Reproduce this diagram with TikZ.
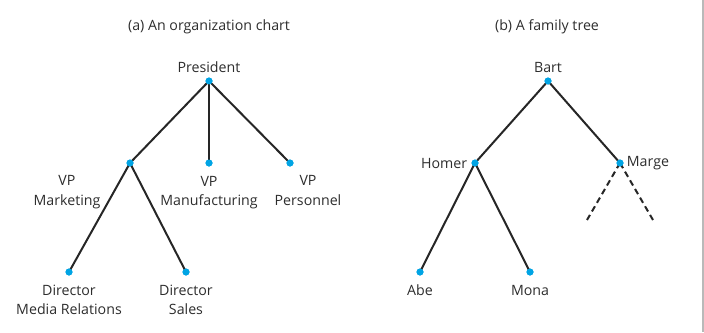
\documentclass[tikz,border=0pt]{standalone}
\usepackage{fontspec}
\setmainfont{Open Sans}
\usepackage{xcolor}
\usetikzlibrary{positioning}
\definecolor{dotblue}{RGB}{0,164,228}
\definecolor{txtgray}{RGB}{45,45,45}
\tikzset{
  dot/.style   ={circle,fill=dotblue,inner sep=0pt,minimum size=7pt},
  edge/.style  ={line width=2pt,black!85},
  hint/.style  ={edge,dashed,dash pattern=on 6pt off 4pt},
  lab/.style   ={font=\fontsize{14.2}{19.5}\selectfont,text=txtgray,align=center,inner sep=1pt},
  ttl/.style   ={lab},
}

\begin{document}
\begin{tikzpicture}[x=1pt,y=-1pt]
  \useasboundingbox (0,0) rectangle (704,332);
  \fill[gray!55] (701.5,0) rectangle (704,332);

  % (a) organization chart
  \node[ttl] (ta) at (209,27) {(a) An organization chart};
  \node[dot] (pres) at (209,81) {};
  \node[dot] (vpm)  at (130,163) {};
  \node[dot] (vpf)  at (209,163) {};
  \node[dot] (vpp)  at (290,163) {};
  \node[dot] (dmr)  at (69,272) {};
  \node[dot] (ds)   at (186,272) {};
  \node[lab,above=3pt of pres] (lpres) {President};
  \node[lab,anchor=north] (lvpm) at (67,174.5) {VP\\Marketing};
  \node[lab,below=8pt of vpf] (lvpf) {VP\\Manufacturing};
  \node[lab,anchor=north] (lvpp) at (308,174.5) {VP\\Personnel};
  \node[lab,below=8pt of dmr] (ldmr) {Director\\Media Relations};
  \node[lab,below=8pt of ds] (lds) {Director\\Sales};
  \draw[edge] (pres.center) -- (vpm.center);
  \draw[edge] (pres.center) -- (vpf.center);
  \draw[edge] (pres.center) -- (vpp.center);
  \draw[edge] (vpm.center) -- (dmr.center);
  \draw[edge] (vpm.center) -- (ds.center);

  % (b) family tree
  \node[ttl] (tb) at (547,27) {(b) A family tree};
  \node[dot] (bart)  at (548,81) {};
  \node[dot] (homer) at (475,163) {};
  \node[dot] (marge) at (620,163) {};
  \node[dot] (abe)   at (420,272) {};
  \node[dot] (mona)  at (530,272) {};
  \coordinate (ml) at (587,220);
  \coordinate (mr) at (653,220);
  \node[lab,above=3pt of bart] (lbart) {Bart};
  \node[lab,left=3pt of homer] (lhomer) {Homer};
  \node[lab,right=2pt of marge] (lmarge) {Marge};
  \node[lab,below=8pt of abe] (labe) {Abe};
  \node[lab,below=8pt of mona] (lmona) {Mona};
  \draw[edge] (bart.center) -- (homer.center);
  \draw[edge] (bart.center) -- (marge.center);
  \draw[edge] (homer.center) -- (abe.center);
  \draw[edge] (homer.center) -- (mona.center);
  \draw[hint] (marge.center) -- (ml);
  \draw[hint] (marge.center) -- (mr);

  % dots on top of the lines
  \foreach \n in {pres,vpm,vpf,vpp,dmr,ds,bart,homer,marge,abe,mona}
    \fill[dotblue] (\n) circle (3.5pt);
\end{tikzpicture}
\end{document}
